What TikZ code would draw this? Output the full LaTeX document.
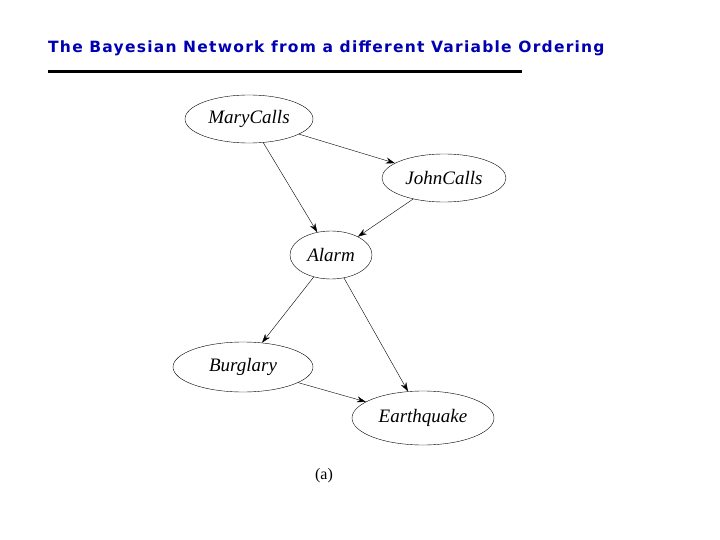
\documentclass[tikz,border=0pt]{standalone}
\usepackage{fontspec}
\setmainfont{Liberation Serif}
\newfontfamily\titlefont[LetterSpace=8]{DejaVu Sans}
\usetikzlibrary{shapes.geometric,arrows.meta}
\begin{document}
\begin{tikzpicture}[x=1pt,y=-1pt,
  var/.style={draw,ellipse,thin,minimum width=2*#1,minimum height=48,inner sep=0pt,font=\fontsize{19}{21}\selectfont\itshape},
  edge/.style={-{Stealth[length=9pt,width=6pt]},thin}]
\useasboundingbox (0,0) rectangle (720,540);
\node[anchor=west,inner sep=0pt,text=blue!70!black,font=\titlefont\bfseries\fontsize{15.5}{18}\selectfont] (title) at (48,48) {The Bayesian Network from a different Variable Ordering};
\draw[line width=3pt] (48,72) -- (522,72);
\node[var=64] (m) at (249,119) {MaryCalls};
\node[var=62] (j) at (444,178) {JohnCalls};
\node[var=41] (a) at (331,255) {Alarm};
\node[var=70,minimum height=50] (b) at (243,367) {Burglary};
\node[var=71,minimum height=54] (e) at (423,418) {Earthquake};
\node[font=\fontsize{16}{18}\selectfont] (lab) at (324,476) {(a)};
\draw[edge] (m) -- (j);
\draw[edge] (m) -- (a);
\draw[edge] (j) -- (a);
\draw[edge] (a) -- (b);
\draw[edge] (a) -- (e);
\draw[edge] (b) -- (e);
\end{tikzpicture}
\end{document}
